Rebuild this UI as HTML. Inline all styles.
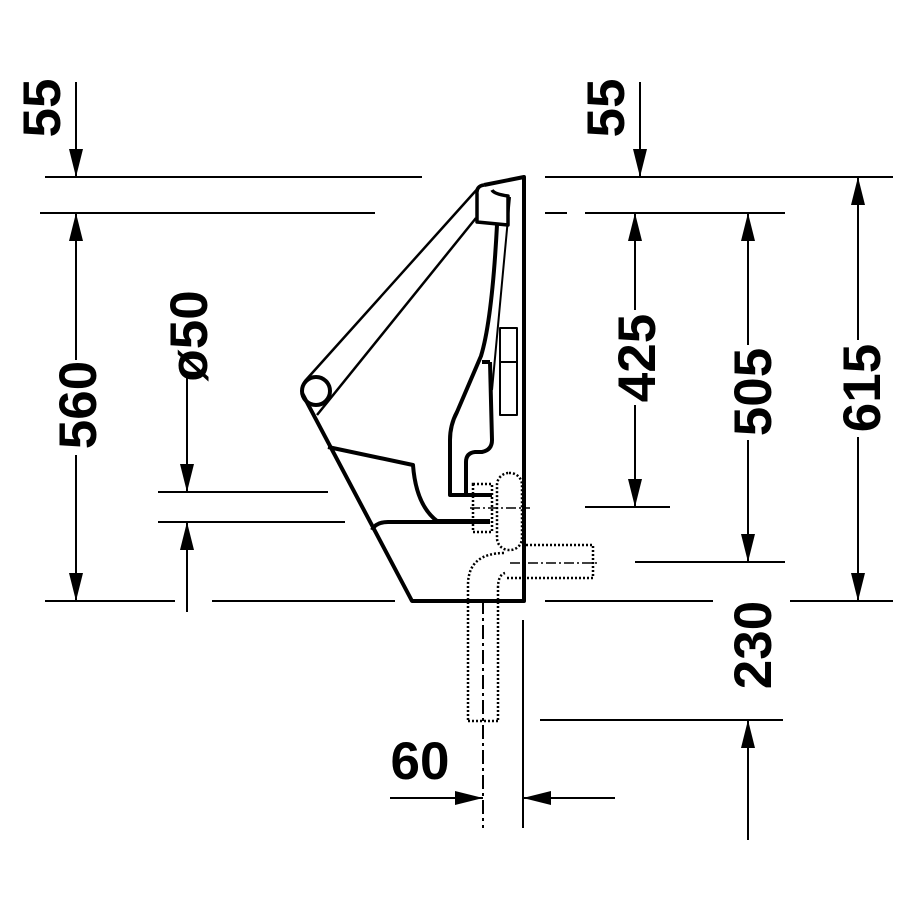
<!DOCTYPE html>
<html><head><style>
html,body{margin:0;padding:0;background:#fff;}
svg{display:block;}
text{font-family:"Liberation Sans",Arial,sans-serif;font-weight:bold;font-size:53px;fill:#000;}
</style></head><body>
<svg width="900" height="900" viewBox="0 0 900 900" xmlns="http://www.w3.org/2000/svg">
<defs>
<marker id="a" viewBox="0 0 28 14" refX="28" refY="7" markerWidth="28" markerHeight="14" markerUnits="userSpaceOnUse" orient="auto"><path d="M0,0 L28,7 L0,14 Z" fill="#000"/></marker>
</defs>
<g stroke="#000" stroke-width="2" fill="none">
<line x1="45" y1="177" x2="422" y2="177"/>
<line x1="40" y1="213" x2="375" y2="213"/>
<line x1="45" y1="601" x2="175" y2="601"/>
<line x1="158" y1="492" x2="328" y2="492"/>
<line x1="158" y1="522" x2="345" y2="522"/>
<line x1="212" y1="601" x2="395" y2="601"/>
<line x1="76" y1="82" x2="76" y2="177" marker-end="url(#a)"/>
<line x1="76" y1="360" x2="76" y2="213" marker-end="url(#a)"/>
<line x1="76" y1="455" x2="76" y2="601" marker-end="url(#a)"/>
<line x1="187" y1="375" x2="187" y2="492" marker-end="url(#a)"/>
<line x1="187" y1="612" x2="187" y2="522" marker-end="url(#a)"/>
<line x1="545" y1="177" x2="893" y2="177"/>
<line x1="545" y1="213" x2="567" y2="213"/>
<line x1="585" y1="213" x2="785" y2="213"/>
<line x1="585" y1="507" x2="670" y2="507"/>
<line x1="635" y1="562" x2="785" y2="562"/>
<line x1="545" y1="601" x2="713" y2="601"/>
<line x1="790" y1="601" x2="893" y2="601"/>
<line x1="540" y1="720" x2="783" y2="720"/>
<line x1="640" y1="82" x2="640" y2="177" marker-end="url(#a)"/>
<line x1="635" y1="310" x2="635" y2="213" marker-end="url(#a)"/>
<line x1="635" y1="405" x2="635" y2="507" marker-end="url(#a)"/>
<line x1="748" y1="345" x2="748" y2="213" marker-end="url(#a)"/>
<line x1="748" y1="440" x2="748" y2="562" marker-end="url(#a)"/>
<line x1="858" y1="340" x2="858" y2="177" marker-end="url(#a)"/>
<line x1="858" y1="437" x2="858" y2="601" marker-end="url(#a)"/>
<line x1="748" y1="840" x2="748" y2="720" marker-end="url(#a)"/>
<line x1="523" y1="620" x2="523" y2="828"/>
<line x1="483" y1="600" x2="483" y2="828" stroke-dasharray="14,4,3,4"/>
<line x1="390" y1="798" x2="483" y2="798" marker-end="url(#a)"/>
<line x1="615" y1="798" x2="523" y2="798" marker-end="url(#a)"/>
</g>
<g stroke="#000" fill="none" stroke-linejoin="round">
<path d="M484,185 L524,177 L524,601 L412,601 L302,393" stroke-width="4"/>
<circle cx="316" cy="391" r="14" stroke-width="4"/>
<path d="M305,381 L480,186" stroke-width="2.5"/>
<path d="M317,415 L476,218" stroke-width="2.5"/>
<path d="M484,185 Q476,186 477,194 L477,222 L508,225 L508,196 Q494,194 492,190" stroke-width="3.5"/>
<path d="M510,197 L492,390" stroke-width="2"/>
<rect x="500" y="328" width="17" height="87" stroke-width="2"/>
<line x1="500" y1="362" x2="517" y2="362" stroke-width="2"/>
<path d="M328,447 L413,465 Q416,505 437,521 L490,521" stroke-width="4"/>
<path d="M372,530 Q376,522 388,522 L490,522" stroke-width="4"/>
<path d="M497,225 Q492,320 481,356 L457,412 Q450,425 450,440 L450,495 L492,495 M490,362 L482,362 M490,362 L492,440 Q492,450 482,452 L475,452 Q466,453 466,462 L466,495" stroke-width="4"/>
</g>
<g stroke="#000" stroke-width="2.5" fill="none" stroke-dasharray="2,2">
<rect x="497" y="473" width="25" height="77" rx="12"/>
<rect x="473" y="484" width="19" height="48"/>
<path d="M522,545 L593,545 L593,578 L505,578"/>
<path d="M468,720 L468,585 Q468,553 505,553"/>
<path d="M498,720 L498,588 Q498,575 505,573"/>
<line x1="468" y1="721" x2="498" y2="721"/>
</g>
<line x1="470" y1="508" x2="530" y2="508" stroke="#000" stroke-width="1.5" stroke-dasharray="10,3,2,3"/>
<line x1="510" y1="563" x2="600" y2="563" stroke="#000" stroke-width="1.5" stroke-dasharray="10,3,2,3"/>
<g>
<text transform="translate(60,108) rotate(-90)" text-anchor="middle">55</text>
<text transform="translate(96,405) rotate(-90)" text-anchor="middle">560</text>
<text transform="translate(207,336) rotate(-90)" text-anchor="middle">ø50</text>
<text transform="translate(624,108) rotate(-90)" text-anchor="middle">55</text>
<text transform="translate(655,358) rotate(-90)" text-anchor="middle">425</text>
<text transform="translate(771,392) rotate(-90)" text-anchor="middle">505</text>
<text transform="translate(880,388) rotate(-90)" text-anchor="middle">615</text>
<text transform="translate(771,645) rotate(-90)" text-anchor="middle">230</text>
<text x="420" y="779" text-anchor="middle">60</text>
</g>
</svg>
</body></html>
